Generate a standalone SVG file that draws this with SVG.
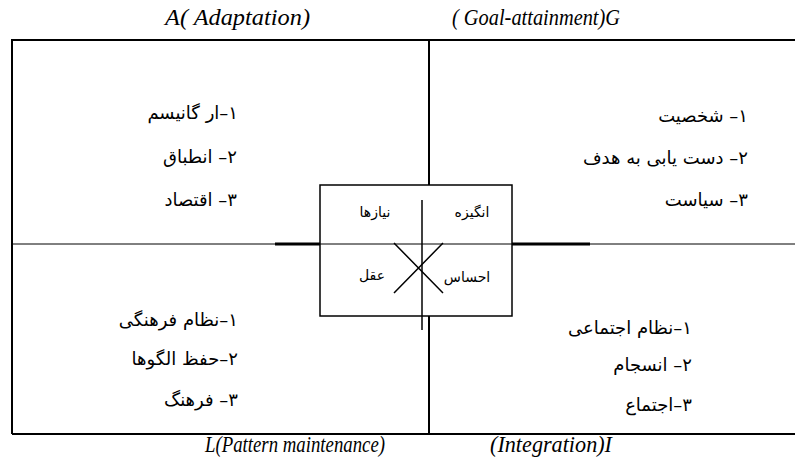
<svg xmlns="http://www.w3.org/2000/svg" width="795" height="459" viewBox="0 0 795 459">
<style>
.lbl{font-family:"Liberation Serif","DejaVu Serif","Times New Roman",serif;font-style:italic;font-size:23px;fill:#000}
.fa{font-family:"DejaVu Sans","Noto Sans",sans-serif;font-size:18px;fill:#000}
.fs{font-family:"DejaVu Sans","Noto Sans",sans-serif;font-size:14px;fill:#000}
.ln{stroke:#000;fill:none}
</style>
<rect width="795" height="459" fill="#fff"/>
<g id="connectors">
<path class="ln" stroke-width="2" d="M12 434V40H795M12 434H795"/>
<path class="ln" stroke-width="2" d="M429 40V185M429 316V434"/>
<path class="ln" stroke-width="1" d="M12 244H795"/>
<path class="ln" stroke-width="3" d="M275 244H320M512 244H590"/>
<path class="ln" stroke-width="1.5" d="M422 200V330"/>
<path class="ln" stroke-width="1.5" d="M394 243L443 293M443 243L394 293"/>
</g>
<g id="center">
<rect class="ln" stroke-width="1.5" x="320" y="185" width="192" height="131"/>
<text class="fs" x="375" y="217" text-anchor="middle">نیازها</text>
<text class="fs" x="472" y="217" text-anchor="middle">انگیزه</text>
<text class="fs" x="372" y="280" text-anchor="middle">عقل</text>
<text class="fs" x="467" y="282" text-anchor="middle">احساس</text>
</g>
<g id="adaptation">
<text class="lbl" x="165" y="25" textLength="145" lengthAdjust="spacingAndGlyphs">A( Adaptation)</text>
<text class="fa" x="238" y="119" direction="rtl" text-anchor="start">۱–ار گانیسم</text>
<text class="fa" x="237" y="163" direction="rtl" text-anchor="start">۲– انطباق</text>
<text class="fa" x="237" y="206" direction="rtl" text-anchor="start">۳– اقتصاد</text>
</g>
<g id="goal">
<text class="lbl" x="452" y="25" textLength="168" lengthAdjust="spacingAndGlyphs">( Goal-attainment)G</text>
<text class="fa" x="748" y="122" direction="rtl" text-anchor="start">۱– شخصیت</text>
<text class="fa" x="748" y="164" direction="rtl" text-anchor="start">۲– دست یابی به هدف</text>
<text class="fa" x="748" y="206" direction="rtl" text-anchor="start">۳– سیاست</text>
</g>
<g id="pattern">
<text class="lbl" x="205" y="452" textLength="180" lengthAdjust="spacingAndGlyphs">L(Pattern maintenance)</text>
<text class="fa" x="238" y="326" direction="rtl" text-anchor="start">۱–نظام فرهنگی</text>
<text class="fa" x="238" y="365" direction="rtl" text-anchor="start">۲–حفظ الگوها</text>
<text class="fa" x="238" y="406" direction="rtl" text-anchor="start">۳–   فرهنگ</text>
</g>
<g id="integration">
<text class="lbl" x="490" y="452" textLength="122" lengthAdjust="spacingAndGlyphs">(Integration)I</text>
<text class="fa" x="692" y="334" direction="rtl" text-anchor="start">۱–نظام اجتماعی</text>
<text class="fa" x="692" y="371" direction="rtl" text-anchor="start">۲– انسجام</text>
<text class="fa" x="692" y="411" direction="rtl" text-anchor="start">۳–اجتماع</text>
</g>
</svg>
